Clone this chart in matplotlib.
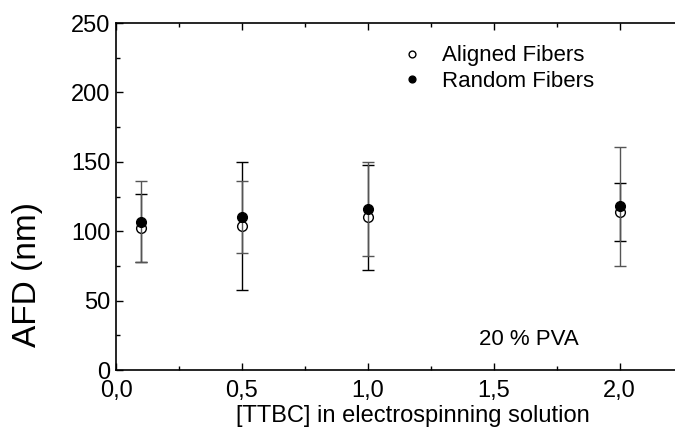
import numpy as np
import matplotlib.pyplot as plt
from matplotlib.ticker import MultipleLocator, FuncFormatter

# dados
ttbc = [0.1, 0.5, 1.0, 2.0]
aligned = [102, 104, 110, 114]
aligned_err = [24.5, 46, 38, 21]
random_f = [107, 110, 116, 118]
random_err = [29, 26, 34, 43]

plt.rcParams['font.family'] = ['Liberation Sans', 'DejaVu Sans']

fig = plt.figure(figsize=(6.75, 4.32), dpi=100)
ax = fig.add_axes([0.172, 0.1435, 0.828, 0.803])

ax.errorbar(ttbc, aligned, yerr=aligned_err, fmt='o', mfc='white', mec='black',
            ecolor='black', color='black', ms=7, capsize=4, elinewidth=1, capthick=1,
            label='Aligned Fibers', zorder=3)
ax.errorbar(ttbc, random_f, yerr=random_err, fmt='o', mfc='black', mec='black',
            ecolor='#555555', color='black', ms=7, capsize=4, elinewidth=1, capthick=1,
            label='Random Fibers', zorder=4)

ax.set_xlim(0, 2.22)
ax.set_ylim(0, 250)
ax.xaxis.set_major_locator(MultipleLocator(0.5))
ax.xaxis.set_minor_locator(MultipleLocator(0.25))
ax.yaxis.set_major_locator(MultipleLocator(50))
ax.yaxis.set_minor_locator(MultipleLocator(25))
ax.xaxis.set_major_formatter(FuncFormatter(lambda v, p: ('%.1f' % v).replace('.', ',')))
ax.tick_params(which='both', direction='in', labelsize=17, width=1, top=True)
ax.tick_params(which='major', length=5)
ax.tick_params(which='minor', length=3)
ax.tick_params(axis='x', pad=7)
ax.tick_params(axis='y', pad=4)
for s in ax.spines.values():
    s.set_linewidth(1.2)
ax.spines['right'].set_visible(False)

ax.set_ylabel('AFD (nm)', fontsize=24)
ax.yaxis.set_label_coords(-0.13, 0.274)
ax.set_xlabel('[TTBC] in electrospinning solution', fontsize=17)
ax.xaxis.set_label_coords(0.531, -0.1)

ax.text(1.837, 22, '20 % PVA', fontsize=16, ha='right', va='center')

h, l = ax.get_legend_handles_labels()
h = [hh[0] for hh in h]
fig.legend(h, l, loc='upper left', bbox_to_anchor=(399.5 / 675, 0.895), frameon=False,
           fontsize=16, handletextpad=0.8, handlelength=1.1, markerscale=0.7,
           labelspacing=0.2, borderpad=0, borderaxespad=0)

plt.savefig('out.png', dpi=100)
